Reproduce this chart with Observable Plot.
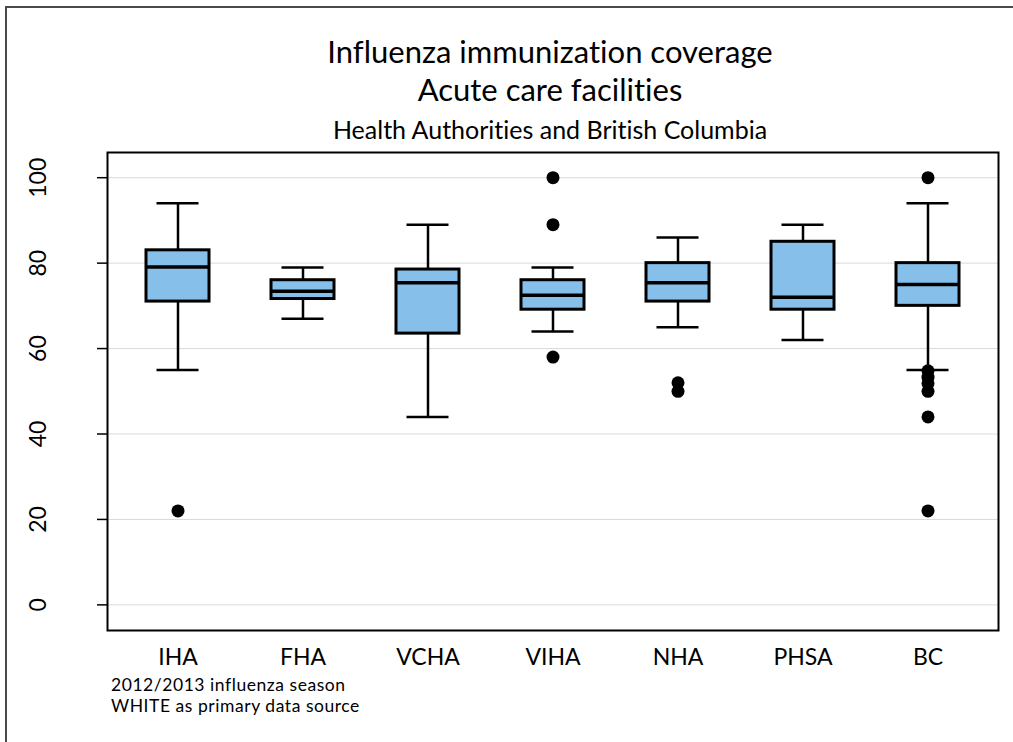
<!DOCTYPE html>
<html>
<head>
<meta charset="utf-8">
<script src="https://cdn.jsdelivr.net/npm/d3@7"></script>
<script src="https://cdn.jsdelivr.net/npm/@observablehq/plot@0.6"></script>
<style>
  html, body { margin: 0; padding: 0; background: #fff; overflow: hidden; }
  #wrap { position: relative; width: 1013px; height: 742px; font-family: Lato, "Open Sans", sans-serif; color: #000; font-variant-ligatures: none; font-feature-settings: "liga" 0, "clig" 0; }
  #border { position: absolute; left: 5px; top: 6px; width: 1100px; height: 800px; border-top: 2px solid #4a4a4a; border-left: 2px solid #4a4a4a; }
  .t { position: absolute; text-align: center; white-space: nowrap; }
  #title { left: 100px; width: 900px; top: 32px; font-size: 31px; line-height: 38px; }
  #subtitle { left: 100px; width: 900px; top: 114.3px; font-size: 25px; line-height: 30px; }
  .cap { position: absolute; left: 111px; height: 21px; font-size: 17.5px; line-height: 21px; letter-spacing: 0.55px; white-space: nowrap; }
  #cap1 { top: 674.2px; }
  #cap2 { top: 695.2px; }
  #chart { position: absolute; left: 0; top: 150px; }
  #chart svg text { font-variant-ligatures: none; }
</style>
</head>
<body>
<div id="wrap">
  <div id="border"></div>
  <div id="title" class="t">Influenza immunization coverage<br>Acute care facilities</div>
  <div id="subtitle" class="t">Health Authorities and British Columbia</div>
  <div id="chart"></div>
  <div id="cap1" class="cap">2012/2013 influenza season</div>
  <div id="cap2" class="cap">WHITE as primary data source</div>
</div>
<script>
// Categories
const categories = ["IHA", "FHA", "VCHA", "VIHA", "NHA", "PHSA", "BC"];
// Box-plot summaries (coverage, %)
const whiskerLow  = [55, 67, 44, 64, 65, 62, 55];
const q1          = [71, 71.6, 63.5, 69.1, 71, 69.1, 70];
const median      = [79.1, 73.4, 75.4, 72.5, 75.4, 72, 75];
const q3          = [83, 76, 78.5, 76, 80, 85, 80];
const whiskerHigh = [94, 79, 89, 79, 86, 89, 94];
// Outliers
const outlierCategory = ["IHA", "VIHA", "VIHA", "VIHA", "NHA", "NHA", "BC", "BC", "BC", "BC", "BC", "BC", "BC"];
const outlierValue    = [22, 100, 89, 58, 52, 50, 100, 54.8, 53.3, 51.8, 50, 44, 22];
// Axis ticks
const yTicks = [0, 20, 40, 60, 80, 100];

const boxes = categories.map((c, i) => ({
  cat: c, lo: whiskerLow[i], q1: q1[i], med: median[i], q3: q3[i], hi: whiskerHigh[i]
}));
const outliers = outlierCategory.map((c, i) => ({cat: c, v: outlierValue[i]}));

const plot = Plot.plot({
  width: 1013,
  height: 530,
  marginTop: 2,
  marginBottom: 50,
  marginLeft: 107,
  marginRight: 15,
  style: {fontFamily: "Lato, 'Open Sans', sans-serif", fontSize: "23px", color: "#000", background: "transparent"},
  x: {type: "band", domain: categories, paddingInner: 0.5, paddingOuter: 0.3, label: null},
  y: {domain: [-6, 105.9], label: null},
  marks: [
    Plot.gridY(yTicks, {stroke: "#d9d9d9", strokeOpacity: 1, strokeWidth: 1}),
    Plot.ruleX(boxes, {x: "cat", y1: "lo", y2: "hi", stroke: "#000", strokeWidth: 2.5}),
    Plot.tickY(boxes, {x: "cat", y: "lo", stroke: "#000", strokeWidth: 2.5, inset: 10.5}),
    Plot.tickY(boxes, {x: "cat", y: "hi", stroke: "#000", strokeWidth: 2.5, inset: 10.5}),
    Plot.barY(boxes, {x: "cat", y1: "q1", y2: "q3", fill: "#85BFEA", stroke: "#000", strokeWidth: 3}),
    Plot.tickY(boxes, {x: "cat", y: "med", stroke: "#000", strokeWidth: 3.5}),
    Plot.dot(outliers, {x: "cat", y: "v", r: 6.5, fill: "#000", stroke: "none"}),
    Plot.frame({stroke: "#000", strokeWidth: 2}),
    Plot.axisY(yTicks, {tickSize: 10, tickRotate: -90, tickPadding: 52, fontSize: 23, stroke: "#000", strokeWidth: 1.5, label: null}),
    Plot.axisX({tickSize: 0, tickPadding: 18, fontSize: 23, label: null})
  ]
});
document.getElementById("chart").appendChild(plot);
</script>
</body>
</html>
